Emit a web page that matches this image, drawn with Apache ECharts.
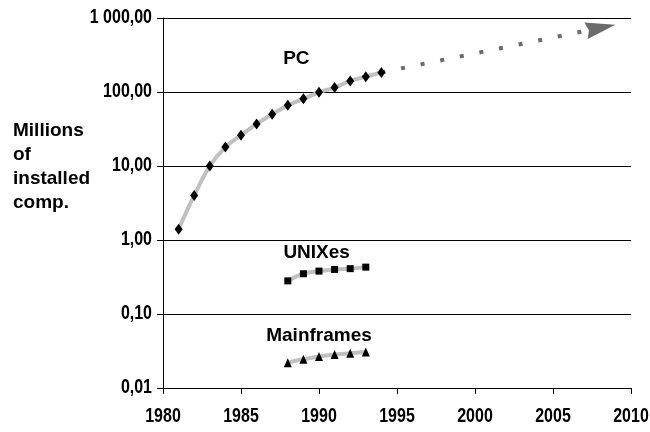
<!DOCTYPE html>
<html>
<head>
<meta charset="utf-8">
<script src="https://cdn.jsdelivr.net/npm/echarts@6/dist/echarts.min.js"></script>
<style>
  html, body { margin: 0; padding: 0; background: #fff; }
  #chart { width: 650px; height: 432px; }
</style>
</head>
<body>
<div id="chart"></div>
<script>
// Installed computers, millions (log scale)
const pcYears = [1981, 1982, 1983, 1984, 1985, 1986, 1987, 1988, 1989, 1990, 1991, 1992, 1993, 1994];
const pcValues = [1.4, 4.0, 10.0, 18, 26, 37, 50, 66, 81, 99, 115, 141, 161, 184];

const unixYears = [1988, 1989, 1990, 1991, 1992, 1993];
const unixValues = [0.28, 0.35, 0.38, 0.40, 0.41, 0.43];

const mainframeYears = [1988, 1989, 1990, 1991, 1992, 1993];
const mainframeValues = [0.022, 0.0244, 0.0266, 0.0283, 0.0294, 0.0306];

// PC growth projection (dotted trend with arrow head)
const projectionYears = [1994, 2009];
const projectionValues = [184, 810];

// Series captions and where they sit in data space
const captionTexts = ['PC', 'UNIXes', 'Mainframes'];
const captionYears = [1988.55, 1989.85, 1990.0];
const captionValues = [282, 0.68, 0.0515];

// Axis tick labels
const yTickValues = [0.01, 0.1, 1, 10, 100, 1000];
const yTickLabels = ['0,01', '0,10', '1,00', '10,00', '100,00', '1 000,00'];
const xTickValues = [1980, 1985, 1990, 1995, 2000, 2005, 2010];
const xTickLabels = ['1980', '1985', '1990', '1995', '2000', '2005', '2010'];

const yAxisTitle = 'Millions\nof\ninstalled\ncomp.';

const zip = (xs, ys) => xs.map((x, i) => [x, ys[i]]);

const sansBold = '"Liberation Sans", Arial, sans-serif';
const textFont = { fontFamily: sansBold, fontWeight: 'bold', fontSize: 19, color: '#000' };

// Narrow bold numerals for tick labels (regular bold squeezed horizontally)
const tickFontSize = 19.5;
const tickSqueeze = 0.82;

const trendLine = { color: '#c0c0c0', width: 4 };
const projColor = '#6b6b6b';

const chart = echarts.init(document.getElementById('chart'), null, { renderer: 'canvas' });

chart.setOption({
  animation: false,
  backgroundColor: '#fff',
  title: {
    text: yAxisTitle,
    left: 13,
    top: 119,
    padding: 0,
    textStyle: Object.assign({}, textFont, { lineHeight: 24 })
  },
  grid: { left: 163, right: 19, top: 18, bottom: 44, containLabel: false },
  xAxis: {
    type: 'value',
    min: 1980,
    max: 2010,
    interval: 5,
    axisLine: { show: true, onZero: false, lineStyle: { color: '#000', width: 1 } },
    axisTick: { show: true, length: 6, lineStyle: { color: '#000' } },
    splitLine: { show: false },
    axisLabel: { show: false }
  },
  yAxis: {
    type: 'log',
    logBase: 10,
    min: 0.01,
    max: 1000,
    axisLine: { show: true, lineStyle: { color: '#000', width: 1 } },
    axisTick: { show: true, length: 6, lineStyle: { color: '#000' } },
    splitLine: { show: true, lineStyle: { color: '#000', width: 1 } },
    minorTick: { show: false },
    axisLabel: { show: false }
  },
  series: [
    {
      name: 'PC projection',
      type: 'line',
      data: zip(projectionYears, projectionValues),
      symbol: 'none',
      lineStyle: { color: projColor, width: 4, type: [4, 16], cap: 'butt' },
      z: 1
    },
    {
      name: 'PC projection arrow',
      type: 'custom',
      data: [[projectionYears[0], projectionValues[0], projectionYears[1], projectionValues[1]]],
      encode: { x: [0, 2], y: [1, 3] },
      renderItem: (params, api) => {
        const from = api.coord([api.value(0), api.value(1)]);
        const tip = api.coord([api.value(2), api.value(3)]);
        const dx = tip[0] - from[0], dy = tip[1] - from[1];
        const len = Math.sqrt(dx * dx + dy * dy);
        const ux = dx / len, uy = dy / len;
        const headLen = 30, halfW = 8.5, notch = 3;
        const bx = tip[0] - ux * headLen, by = tip[1] - uy * headLen;
        const nx = -uy, ny = ux;
        return {
          type: 'polygon',
          shape: {
            points: [
              tip,
              [bx + nx * halfW, by + ny * halfW],
              [bx + ux * notch, by + uy * notch],
              [bx - nx * halfW, by - ny * halfW]
            ]
          },
          style: { fill: projColor }
        };
      },
      z: 2
    },
    {
      name: 'PC',
      type: 'line',
      data: zip(pcYears, pcValues),
      smooth: 0.35,
      lineStyle: trendLine,
      symbol: 'diamond',
      symbolSize: [8, 11],
      itemStyle: { color: '#000' },
      z: 3
    },
    {
      name: 'UNIXes',
      type: 'line',
      data: zip(unixYears, unixValues),
      smooth: 0.35,
      lineStyle: trendLine,
      symbol: 'rect',
      symbolSize: 7,
      itemStyle: { color: '#000' },
      z: 3
    },
    {
      name: 'Mainframes',
      type: 'line',
      data: zip(mainframeYears, mainframeValues),
      smooth: 0.35,
      lineStyle: trendLine,
      symbol: 'triangle',
      symbolSize: [8, 9],
      itemStyle: { color: '#000' },
      z: 3
    }
  ]
});

// Text placed through the axes' own scales
const textStyle = (text, size, align, vAlign) => ({
  text: text,
  fontFamily: sansBold,
  fontWeight: 'bold',
  fontSize: size,
  fill: '#000',
  align: align,
  verticalAlign: vAlign,
  textAlign: align,
  textVerticalAlign: vAlign
});

const texts = [];
yTickValues.forEach((v, i) => {
  const p = chart.convertToPixel({ gridIndex: 0 }, [1980, v]);
  texts.push({
    type: 'text',
    x: p[0] - 11,
    y: p[1],
    scaleX: tickSqueeze,
    silent: true,
    style: textStyle(yTickLabels[i], tickFontSize, 'right', 'middle')
  });
});
xTickValues.forEach((v, i) => {
  const p = chart.convertToPixel({ gridIndex: 0 }, [v, 0.01]);
  texts.push({
    type: 'text',
    x: p[0],
    y: p[1] + 29,
    scaleX: tickSqueeze,
    silent: true,
    style: textStyle(xTickLabels[i], tickFontSize, 'center', 'middle')
  });
});
captionTexts.forEach((t, i) => {
  const p = chart.convertToPixel({ gridIndex: 0 }, [captionYears[i], captionValues[i]]);
  texts.push({
    type: 'text',
    x: p[0],
    y: p[1],
    z: 10,
    silent: true,
    style: textStyle(t, textFont.fontSize, 'center', 'middle')
  });
});
chart.setOption({ graphic: texts });
</script>
</body>
</html>
